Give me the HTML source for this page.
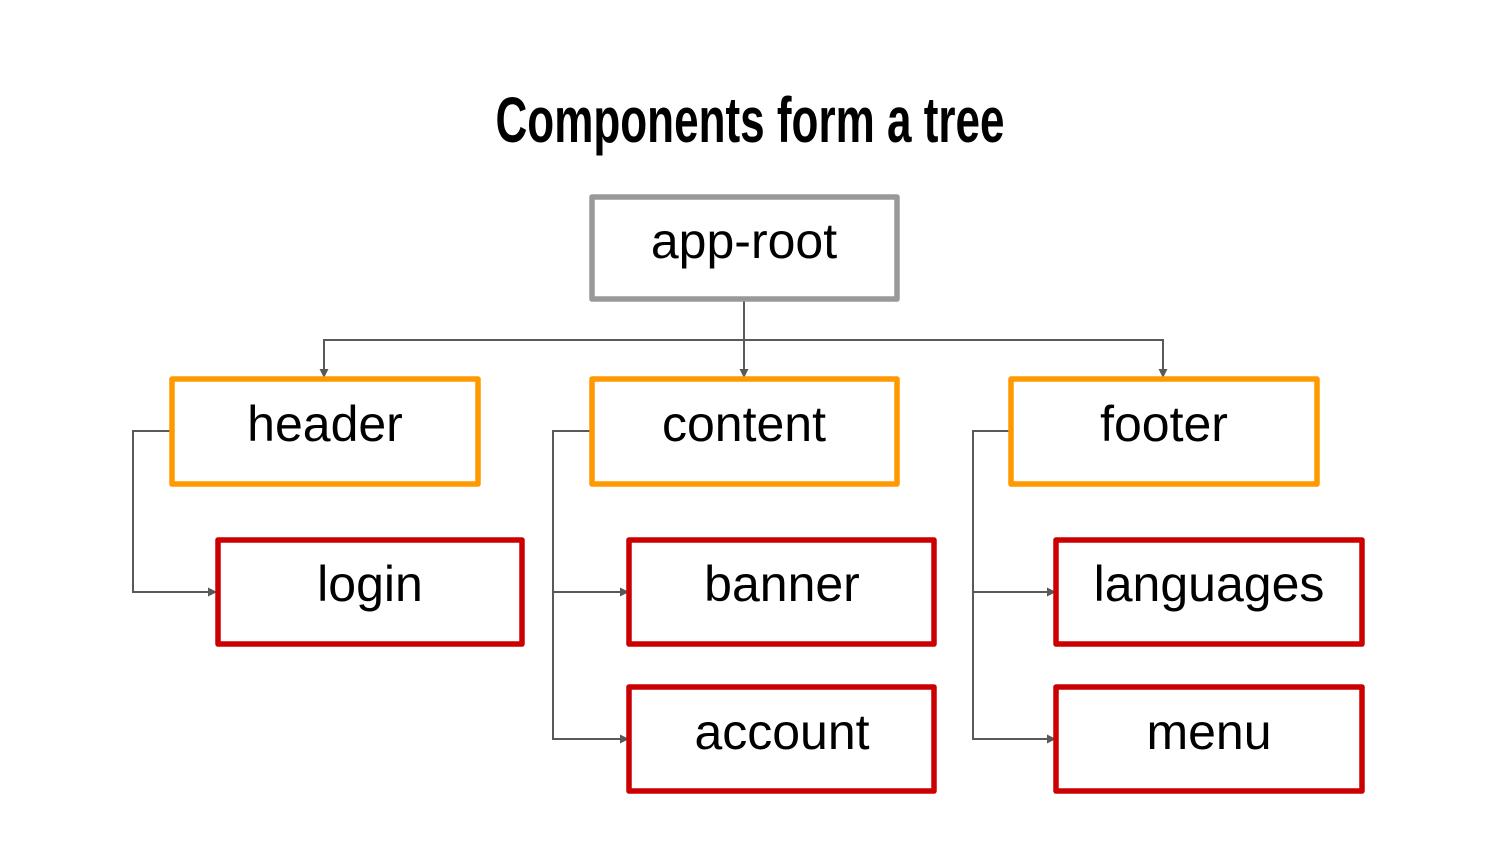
<!DOCTYPE html>
<html><head><meta charset="utf-8"><style>html,body{margin:0;padding:0;background:#fff}svg{display:block}</style></head>
<body>
<svg width="1500" height="844" viewBox="0 0 1500 844" xmlns="http://www.w3.org/2000/svg">
<defs><marker id="a" markerWidth="9" markerHeight="9" refX="8" refY="4.5" orient="auto" markerUnits="userSpaceOnUse"><path d="M0,0 L9,4.5 L0,9 z" fill="#595959"/></marker></defs>
<text x="750" y="142" text-anchor="middle" font-family="Liberation Sans Narrow, Liberation Sans, sans-serif" font-weight="bold" font-size="64" textLength="509" lengthAdjust="spacingAndGlyphs" fill="#000">Components form a tree</text>
<g fill="none" stroke="#595959" stroke-width="2">
<path d="M744,300 V377" marker-end="url(#a)"/>
<path d="M324,377 V340 H1163 V377" />
<path d="M324,370 V377" marker-end="url(#a)"/>
<path d="M1163,370 V377" marker-end="url(#a)"/>
<path d="M173,431 H133 V592 H216" marker-end="url(#a)"/>
<path d="M593,431 H553 V739 H628" marker-end="url(#a)"/>
<path d="M553,592 H628" marker-end="url(#a)"/>
<path d="M1012,431 H973 V739 H1055" marker-end="url(#a)"/>
<path d="M973,592 H1055" marker-end="url(#a)"/>
</g>
<g fill="none" stroke-width="5.5" stroke-linejoin="round">
<rect x="592" y="197" width="305" height="102" stroke="#999999"/>
<rect x="172" y="379" width="306" height="105" stroke="#ff9900"/>
<rect x="592" y="379" width="305" height="105" stroke="#ff9900"/>
<rect x="1011" y="379" width="306" height="105" stroke="#ff9900"/>
<rect x="218" y="540" width="304" height="104" stroke="#cc0000"/>
<rect x="629" y="540" width="305" height="104" stroke="#cc0000"/>
<rect x="629" y="687" width="305" height="104" stroke="#cc0000"/>
<rect x="1056" y="540" width="306" height="104" stroke="#cc0000"/>
<rect x="1056" y="687" width="306" height="104" stroke="#cc0000"/>
</g>
<g font-family="Liberation Sans, Arial, sans-serif" font-size="50" text-anchor="middle" fill="#000">
<text x="744" y="258">app-root</text>
<text x="325" y="441">header</text>
<text x="744" y="441">content</text>
<text x="1164" y="441">footer</text>
<text x="370" y="601">login</text>
<text x="782" y="601">banner</text>
<text x="782" y="749">account</text>
<text x="1209" y="601">languages</text>
<text x="1209" y="749">menu</text>
</g>
</svg>
</body></html>
